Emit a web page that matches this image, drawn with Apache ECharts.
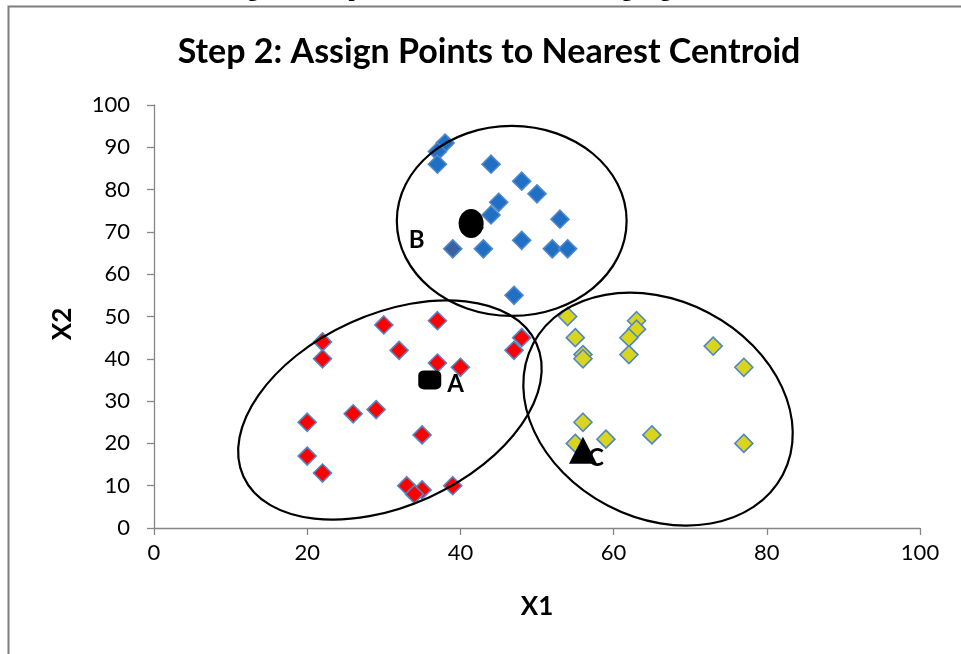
<!DOCTYPE html>
<html>
<head>
<meta charset="utf-8">
<script src="https://cdn.jsdelivr.net/npm/echarts@6/dist/echarts.min.js"></script>
<style>
html,body{margin:0;padding:0;background:#fff;}
#main{width:961px;height:654px;}
</style>
</head>
<body>
<div id="main"></div>
<script>
// ---- data ----
const clusterB = [[38,91],[37,89],[37,86],[44,86],[48,82],[50,79],[45,77],[44,74],[41.8,71],[53,73],[43,66],[48,68],[52,66],[54,66],[47,55]];
const clusterBDark = [[39,66]];
const clusterA = [[22,44],[22,40],[30,48],[37,49],[32,42],[37,39],[40,38],[48,45],[47,42],[20,25],[26,27],[29,28],[35,22],[20,17],[22,13],[33,10],[35,9],[34,8],[39,10]];
const clusterC = [[54,50],[55,45],[56,41],[56,40],[63,49],[63,47],[62,45],[62,41],[73,43],[77,38],[56,25],[59,21],[65,22],[77,20],[55,20]];
const centroidA = [[36,35]];
const centroidB = [[41.4,72]];
const centroidC = [[56,18.4]];
// annotation ellipses: [centerX, centerY, semiAxisA (x units), semiAxisB (x units), angle deg]
const ellipses = [[30.8,27.9,21.0,12.5,24.4],[46.7,72.6,15.0,12.4,0],[65.8,28.1,18.4,14.2,-27.6]];
const xTicks = [0,20,40,60,80,100];
const yTicks = [0,10,20,30,40,50,60,70,80,90,100];
const titleText = 'Step 2: Assign Points to Nearest Centroid';
const captionText = 'Figure 2: Step 2 of the K-Means Clustering Algorithm';

const FONT = 'Lato, "Open Sans", sans-serif';
const chart = echarts.init(document.getElementById('main'), null, {renderer:'canvas'});
const diamondBorder = {borderColor:'#4F87C9', borderWidth:1.6, opacity:1};
const axisCommon = {
  axisLine:{show:true, lineStyle:{color:'#868686', width:1.3}},
  axisTick:{show:true, inside:false, length:7, lineStyle:{color:'#868686', width:1.3}},
  splitLine:{show:false},
  axisLabel:{color:'#000', fontFamily:FONT, fontSize:22}
};
const centroidLabel = {show:true, color:'#000', fontFamily:FONT, fontWeight:'bold', fontSize:24, opacity:1};
chart.setOption({
  animation:false,
  grid:{left:154, right:41, top:105, bottom:126, containLabel:false},
  xAxis:Object.assign({type:'value', min:xTicks[0], max:xTicks[xTicks.length-1], interval:xTicks[1]-xTicks[0]}, axisCommon,
    {axisLabel:Object.assign({}, axisCommon.axisLabel, {margin:14})}),
  yAxis:Object.assign({type:'value', min:yTicks[0], max:yTicks[yTicks.length-1], interval:yTicks[1]-yTicks[0]}, axisCommon,
    {axisLabel:Object.assign({}, axisCommon.axisLabel, {margin:24})}),
  graphic:[
    {type:'polyline', silent:true, shape:{points:[[8.5,654],[8.5,6.5],[961,6.5]]}, style:{stroke:'#7f7f7f', lineWidth:2, fill:null}},
    {type:'text', x:482, y:1.5, style:{text:captionText, fill:'#000', font:'bold 22px "Liberation Serif", serif', align:'center', verticalAlign:'bottom'}},
    {type:'text', x:489, y:52, style:{text:titleText, fill:'#000', font:'bold 34px '+FONT, align:'center', verticalAlign:'middle'}},
    {type:'text', x:537, y:607, style:{text:'X1', fill:'#000', font:'bold 26px '+FONT, align:'center', verticalAlign:'middle'}},
    {type:'text', x:63, y:324, rotation:Math.PI/2, style:{text:'X2', fill:'#000', font:'bold 26px '+FONT, align:'center', verticalAlign:'middle'}}
  ],
  series:[
    {type:'scatter', data:clusterB, symbol:'diamond', symbolSize:18, itemStyle:Object.assign({color:'#1F6FC4'}, diamondBorder), z:3},
    {type:'scatter', data:clusterBDark, symbol:'diamond', symbolSize:18, itemStyle:Object.assign({color:'#3A62A0'}, diamondBorder), z:3},
    {type:'scatter', data:clusterA, symbol:'diamond', symbolSize:18, itemStyle:Object.assign({color:'#FF0000'}, diamondBorder), z:3},
    {type:'scatter', data:clusterC, symbol:'diamond', symbolSize:18, itemStyle:Object.assign({color:'#D9D41E'}, diamondBorder), z:3},
    {type:'scatter', data:centroidA, symbol:'roundRect', symbolSize:[23,19], itemStyle:{color:'#000', opacity:1}, z:4,
      label:Object.assign({formatter:'A', position:'right', distance:6, offset:[0,4]}, centroidLabel)},
    {type:'scatter', data:centroidB, symbol:'path://M50,0A50,50,0,1,1,50,100A50,50,0,1,1,50,0Z', symbolSize:[25,29], itemStyle:{color:'#000', opacity:1}, z:4,
      label:Object.assign({formatter:'B', position:'left', distance:34, offset:[0,17]}, centroidLabel)},
    {type:'scatter', data:centroidC, symbol:'triangle', symbolSize:[28,27], itemStyle:{color:'#000', opacity:1}, z:4,
      label:Object.assign({formatter:'C', position:'right', distance:-9, offset:[0,8]}, centroidLabel)},
    {type:'custom', data:ellipses, z:5, silent:true, encode:{x:0, y:1},
      renderItem:function(params, api){
        const c = api.coord([api.value(0), api.value(1)]);
        const ra = api.size([api.value(2), 0])[0];
        const rb = api.size([api.value(3), 0])[0];
        return {type:'ellipse', x:c[0], y:c[1], rotation:api.value(4)*Math.PI/180,
          shape:{cx:0, cy:0, rx:ra, ry:rb},
          style:{fill:null, stroke:'#000', lineWidth:2.2}};
      }}
  ]
});
</script>
</body>
</html>
